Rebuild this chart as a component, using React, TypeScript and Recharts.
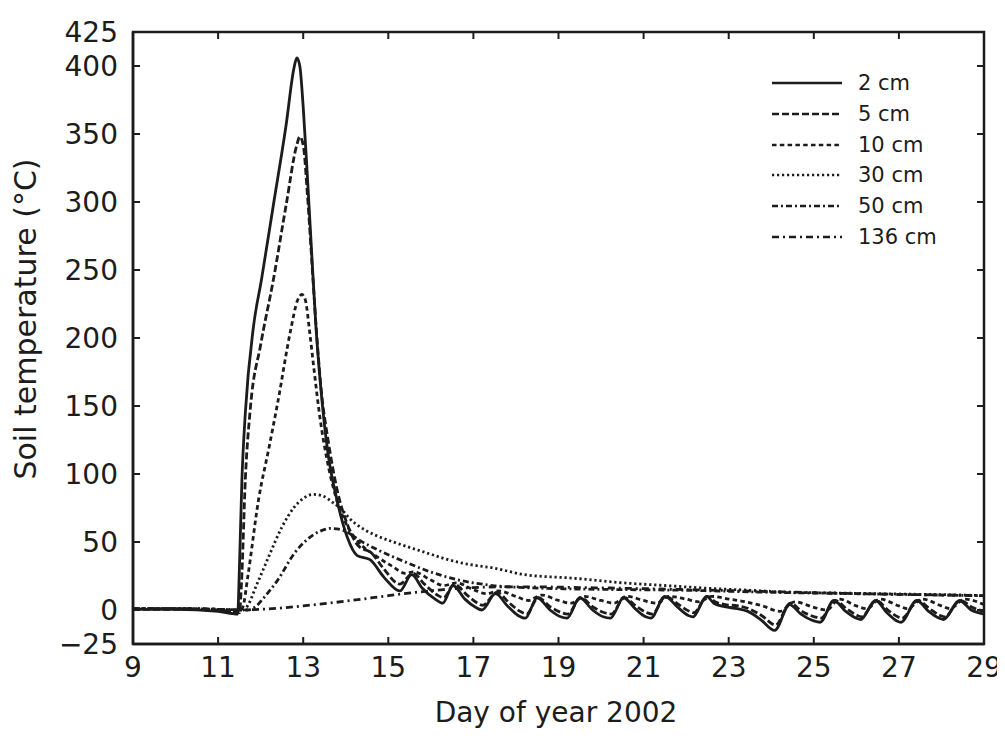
import { LineChart, Line, XAxis, YAxis, Legend, ReferenceArea } from "recharts";

type Pt = [number, number];

// axis ticks
const dayTicks = [9, 11, 13, 15, 17, 19, 21, 23, 25, 27, 29];
const tempTicks = [-25, 0, 50, 100, 150, 200, 250, 300, 350, 400, 425];

// [day of year, soil temperature °C]
const depth2cm: Pt[] = [
  [9, 0.5], [10, 0.5], [11, -1], [11.46, -3], [11.5, 30], [11.56, 96], [11.64, 145],
  [11.83, 208], [12.02, 243], [12.3, 298], [12.6, 357], [12.78, 398], [12.85, 406],
  [12.92, 400], [13.0, 370], [13.1, 318], [13.2, 262], [13.3, 208], [13.4, 168],
  [13.57, 118], [13.8, 80], [14.03, 54], [14.27, 40], [14.57, 37], [14.9, 24],
  [15.27, 14], [15.55, 26], [15.8, 16], [16.1, 8], [16.28, 5], [16.52, 18], [16.8, 8],
  [17.05, 2], [17.2, 0], [17.52, 12], [17.8, 3], [18.05, -4], [18.22, -6], [18.5, 9],
  [18.8, 0], [19.05, -5], [19.2, -6], [19.5, 9], [19.8, 0], [20.05, -5], [20.22, -6],
  [20.53, 9], [20.8, 1], [21.05, -5], [21.17, -6], [21.5, 10], [21.8, 2], [22.05, -4],
  [22.16, -5], [22.48, 10], [22.65, 5], [22.9, 2.5], [23.2, 1], [23.45, -1], [23.75, -7],
  [24.08, -15], [24.43, 4], [24.7, -3], [25.0, -8], [25.15, -9], [25.47, 7], [25.75, -1],
  [26.0, -6], [26.1, -7], [26.45, 7], [26.72, -2], [26.95, -8], [27.05, -9], [27.42, 7],
  [27.7, -1], [27.95, -6], [28.05, -7], [28.42, 7], [28.7, 0], [29.0, -3],
];

const depth5cm: Pt[] = [
  [9, 0.5], [10, 0.5], [11, 0], [11.5, -2], [11.55, 20], [11.64, 96], [11.76, 149],
  [12.0, 195], [12.3, 243], [12.6, 298], [12.85, 342], [12.92, 348], [13.0, 342],
  [13.1, 305], [13.2, 258], [13.3, 210], [13.42, 163], [13.6, 122], [13.8, 88],
  [14.05, 62], [14.3, 47], [14.6, 42], [14.9, 30], [15.27, 19], [15.58, 27], [15.85, 19],
  [16.15, 11], [16.3, 9], [16.55, 19], [16.85, 11], [17.1, 5], [17.22, 3.5], [17.55, 13],
  [17.85, 5], [18.1, -1], [18.25, -3], [18.52, 9], [18.82, 2], [19.08, -2], [19.22, -3],
  [19.52, 9], [19.82, 2], [20.08, -2], [20.24, -3], [20.55, 9], [20.82, 3], [21.08, -2],
  [21.2, -3], [21.52, 10], [21.82, 4], [22.08, -1], [22.18, -2], [22.5, 10], [22.68, 6],
  [22.92, 4], [23.22, 3], [23.47, 1], [23.77, -4], [24.1, -11], [24.45, 5], [24.72, -1],
  [25.02, -5], [25.17, -6], [25.5, 7], [25.77, 1], [26.02, -4], [26.12, -5], [26.47, 7],
  [26.74, 0], [26.97, -5], [27.07, -6], [27.45, 7], [27.72, 1], [27.97, -4], [28.07, -5],
  [28.45, 7], [28.72, 2], [29.0, -1],
];

const depth10cm: Pt[] = [
  [9, 1], [10, 1], [11, 0.5], [11.5, -1], [11.58, 2], [11.7, 25], [11.95, 81],
  [12.2, 120], [12.41, 154], [12.7, 205], [12.87, 228], [12.97, 232], [13.05, 228],
  [13.15, 205], [13.25, 178], [13.4, 140], [13.55, 112], [13.75, 85], [14.0, 64],
  [14.3, 50], [14.7, 40], [15.1, 32], [15.4, 27], [15.6, 28], [16.0, 22], [16.3, 18],
  [16.6, 20], [17.0, 15], [17.3, 12], [17.6, 14], [18.0, 10], [18.3, 7], [18.6, 11],
  [19.0, 7], [19.3, 5], [19.6, 10], [20.0, 7], [20.3, 5], [20.6, 10], [21.0, 7],
  [21.3, 5], [21.6, 10], [22.0, 8], [22.3, 6], [22.6, 10], [23.0, 8], [23.4, 6],
  [23.8, 3], [24.2, -1], [24.55, 6], [25.0, 2], [25.3, 0], [25.6, 8], [26.0, 3],
  [26.25, 1], [26.55, 8], [27.0, 3], [27.2, 1], [27.55, 8], [28.0, 3], [28.2, 1],
  [28.55, 8], [29.0, 4],
];

const depth30cm: Pt[] = [
  [9, 1], [10, 1], [11, 0.5], [11.6, 0], [11.71, 4], [11.9, 18], [12.05, 29],
  [12.2, 40], [12.5, 61], [12.8, 76], [13.0, 82], [13.22, 85], [13.45, 84], [13.7, 79],
  [13.9, 74], [14.1, 67], [14.34, 61], [14.7, 55], [15.12, 50], [15.5, 46], [15.9, 42],
  [16.3, 38], [16.66, 35], [17.0, 33], [17.45, 31], [18.2, 26], [19.3, 23.5], [20.5, 20],
  [21.5, 18], [22.5, 16], [23.5, 14.5], [24.5, 13], [25.5, 12.5], [26.5, 12],
  [27.5, 11.5], [28.5, 11], [29, 10.5],
];

const depth50cm: Pt[] = [
  [9, 1], [10, 1], [11, 0.5], [11.7, 0], [11.9, 3], [12.1, 10], [12.4, 22], [12.8, 42],
  [13.1, 52], [13.4, 58], [13.64, 60], [13.9, 59], [14.1, 56], [14.34, 51], [14.7, 45],
  [15.12, 39], [15.5, 34], [15.9, 29], [16.3, 25], [16.66, 22], [17.0, 20], [17.45, 18],
  [18.2, 16.5], [19.3, 15.5], [20.5, 15], [22, 14.5], [24, 13], [26, 12], [28, 11],
  [29, 10.5],
];

const depth136cm: Pt[] = [
  [9, 1], [10, 1], [11, 0.5], [11.5, 0], [12.0, 0.5], [12.5, 1.5], [13.0, 3], [13.3, 4],
  [14.0, 6.5], [14.5, 8.5], [15.0, 10.5], [15.65, 13], [16.3, 15], [17.0, 16.5],
  [17.6, 17], [18.5, 17], [19.5, 16.5], [20.5, 16], [22, 15], [24, 13.5], [26, 12],
  [28, 11], [29, 10.5],
];

const INK = "#1c1c1c";
const FONT = "'DejaVu Sans', 'Liberation Sans', Arial, sans-serif";

// plot box inside the svg (left/right/top/bottom edges)
const BOX = { left: 125, right: 976, top: 24, bottom: 636 };
const TICK_LEN = 7;

const SERIES = [
  { name: "2 cm", points: depth2cm, dash: undefined as string | undefined },
  { name: "5 cm", points: depth5cm, dash: "7 3" },
  { name: "10 cm", points: depth10cm, dash: "4.5 3.3" },
  { name: "30 cm", points: depth30cm, dash: "2.2 2.8" },
  { name: "50 cm", points: depth50cm, dash: "6 3 2 3" },
  { name: "136 cm", points: depth136cm, dash: "7 4 2 4" },
];

const toRows = (pts: Pt[]) => pts.map(([d, t]) => ({ d, t }));

const fmtTemp = (v: number) => (v < 0 ? `\u2212${Math.abs(v)}` : `${v}`);

/* ── ticks: inward marks on both opposite sides + label ── */
function DayTick({ x, y, payload }: { x?: number; y?: number; payload?: { value: number } }) {
  if (x == null || y == null || !payload) return null;
  return (
    <g>
      <line x1={x} y1={BOX.bottom} x2={x} y2={BOX.bottom - TICK_LEN} stroke={INK} strokeWidth={2} />
      <line x1={x} y1={BOX.top} x2={x} y2={BOX.top + TICK_LEN} stroke={INK} strokeWidth={2} />
      <text x={x} y={y} dy="0.71em" textAnchor="middle" fill={INK} fontSize={28} fontFamily={FONT}>
        {payload.value}
      </text>
    </g>
  );
}

function TempTick({ x, y, payload }: { x?: number; y?: number; payload?: { value: number } }) {
  if (x == null || y == null || !payload) return null;
  return (
    <g>
      <line x1={BOX.left} y1={y} x2={BOX.left + TICK_LEN} y2={y} stroke={INK} strokeWidth={2} />
      <line x1={BOX.right} y1={y} x2={BOX.right - TICK_LEN} y2={y} stroke={INK} strokeWidth={2} />
      <text x={x} y={y} dy="0.355em" textAnchor="end" fill={INK} fontSize={28} fontFamily={FONT}>
        {fmtTemp(payload.value)}
      </text>
    </g>
  );
}

/* ── legend in the top right corner ── */
function DepthLegend() {
  return (
    <div style={{ fontFamily: FONT, fontSize: 21, color: INK }}>
      {SERIES.map((s) => (
        <div key={s.name} style={{ height: 30.8, display: "flex", alignItems: "center" }}>
          <svg width={70} height={8} style={{ display: "block" }}>
            <line x1={0} y1={4} x2={70} y2={4} stroke={INK} strokeWidth={2.4} strokeDasharray={s.dash} />
          </svg>
          <span style={{ marginLeft: 16, whiteSpace: "nowrap" }}>{s.name}</span>
        </div>
      ))}
    </div>
  );
}

function YTitle() {
  return (
    <text
      transform="translate(28 311) rotate(-90)"
      textAnchor="middle"
      fill={INK}
      fontSize={30}
      fontFamily={FONT}
    >
      Soil temperature (°C)
    </text>
  );
}

function XTitle() {
  return (
    <text x={548} y={714} textAnchor="middle" fill={INK} fontSize={28} fontFamily={FONT}>
      Day of year 2002
    </text>
  );
}

export default function App() {
  return (
    <div style={{ width: 997, height: 731, background: "#fff" }}>
      <LineChart width={997} height={731} margin={{ top: 24, right: 21, bottom: 0, left: 0 }}>
        <XAxis
          dataKey="d"
          type="number"
          domain={[9, 29]}
          ticks={dayTicks}
          interval={0}
          allowDataOverflow
          height={95}
          tick={<DayTick />}
          tickLine={false}
          tickSize={0}
          tickMargin={13}
          stroke={INK}
          strokeWidth={2.5}
          label={<XTitle />}
        />
        <YAxis
          type="number"
          domain={[-25, 425]}
          ticks={tempTicks}
          interval={0}
          allowDataOverflow
          width={125}
          tick={<TempTick />}
          tickLine={false}
          tickSize={0}
          tickMargin={15}
          stroke={INK}
          strokeWidth={2.5}
          label={<YTitle />}
        />
        {/* frame round the plot */}
        <ReferenceArea
          x1={9}
          x2={29}
          y1={-25}
          y2={425}
          fill="none"
          fillOpacity={0}
          stroke={INK}
          strokeWidth={2.5}
          strokeOpacity={1}
          ifOverflow="visible"
        />
        <Legend
          layout="vertical"
          align="center"
          verticalAlign="middle"
          content={<DepthLegend />}
          wrapperStyle={{ top: 59.6, left: 764, width: 220, height: 190 }}
        />
        {SERIES.map((s) => (
          <Line
            key={s.name}
            name={s.name}
            data={toRows(s.points)}
            dataKey="t"
            type="monotone"
            stroke={INK}
            strokeWidth={2.8}
            strokeDasharray={s.dash}
            dot={false}
            activeDot={false}
            isAnimationActive={false}
          />
        ))}
      </LineChart>
    </div>
  );
}
